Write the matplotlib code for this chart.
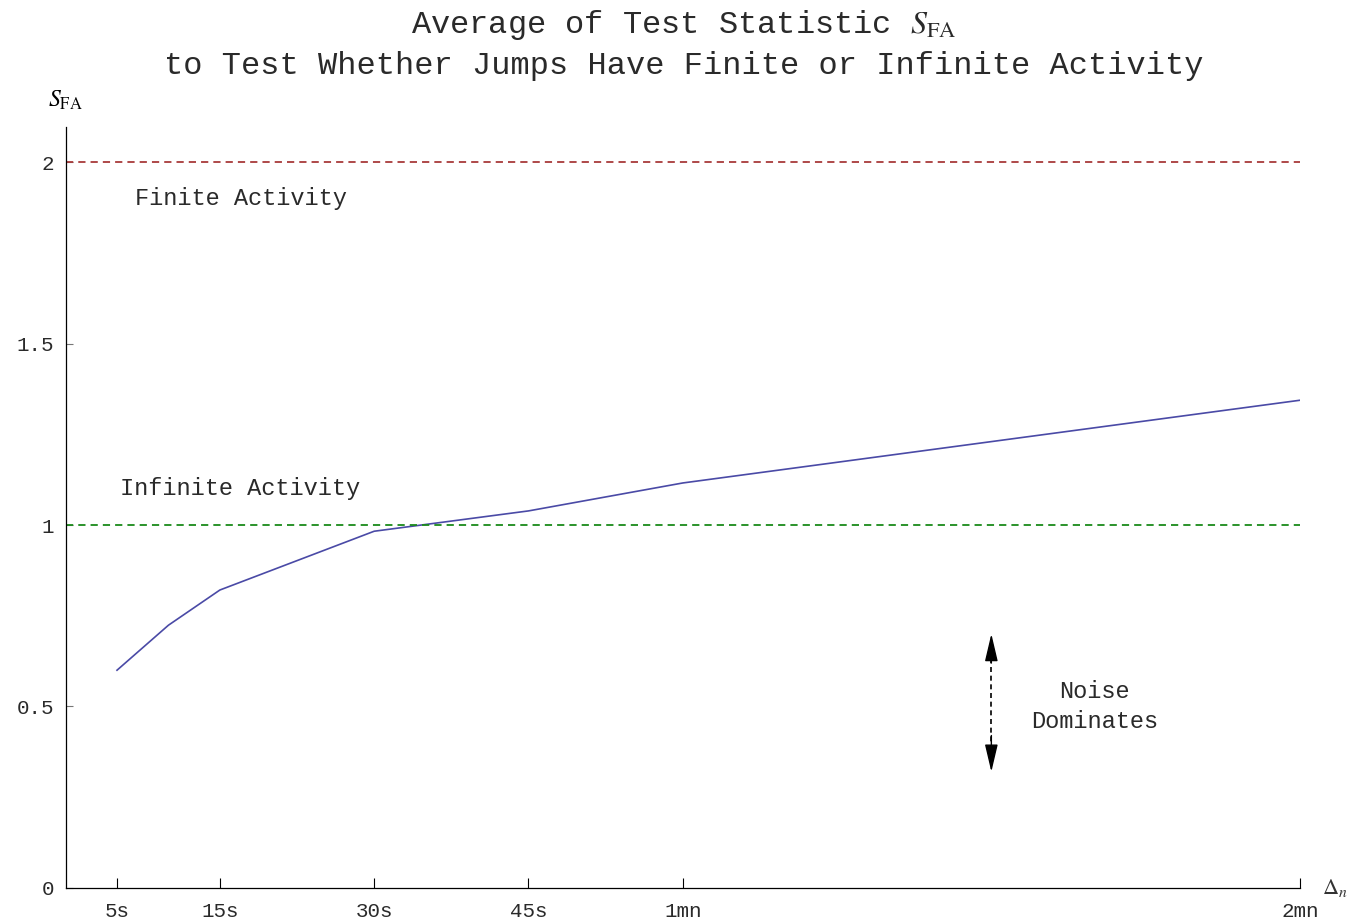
import matplotlib
matplotlib.use("Agg")
import matplotlib.pyplot as plt

plt.rcParams['font.family'] = ['Liberation Mono', 'DejaVu Sans Mono']
plt.rcParams['mathtext.fontset'] = 'stix'

# Data
delta_seconds = [5, 10, 15, 30, 45, 60, 120]
s_fa = [0.600, 0.724, 0.821, 0.983, 1.039, 1.116, 1.344]
xtick_pos = [5, 15, 30, 45, 60, 120]
xtick_labels = ['5s', '15s', '30s', '45s', '1mn', '2mn']
ytick_pos = [0, 0.5, 1, 1.5, 2]
ytick_labels = ['0', '0.5', '1', '1.5', '2']
finite_level = 2.0
infinite_level = 1.0

TXT = '#2a2a2a'

fig = plt.figure(figsize=(13.52, 9.23), dpi=100)
ax = fig.add_axes([0.0485, 0.038, 0.9130, 0.824])

ax.plot(delta_seconds, s_fa, color='#4a4aa6', lw=1.2)
ax.axhline(finite_level, color='#a83a3a', lw=1.3, ls=(0, (4, 2.8)))
ax.axhline(infinite_level, color='#1a8a1a', lw=1.3, ls=(0, (4, 2.8)))

ax.set_xlim(0, 120)
ax.set_ylim(0, 2.096)
ax.set_xticks(xtick_pos)
ax.set_xticklabels(xtick_labels, fontsize=15, color=TXT)
ax.set_yticks(ytick_pos)
ax.set_yticklabels(ytick_labels, fontsize=15, color=TXT)
ax.tick_params(axis='x', direction='in', length=7, width=0.8, pad=10)
ax.tick_params(axis='y', direction='in', length=5, width=0.8, pad=8, color='#777777')

for s in ['top', 'right']:
    ax.spines[s].set_visible(False)
for s in ['left', 'bottom']:
    ax.spines[s].set_linewidth(0.9)

ax.text(17, 1.90, 'Finite Activity', fontsize=17, ha='center', va='center', color=TXT)
ax.text(17, 1.10, 'Infinite Activity', fontsize=17, ha='center', va='center', color=TXT)
ax.text(100, 0.50, 'Noise\nDominates', fontsize=17, ha='center', va='center',
        color=TXT, linespacing=1.35)

# double-headed dashed arrow
ax.plot([90, 90], [0.38, 0.655], color='black', lw=1.2, ls=(0, (3, 2.2)))
for y0, y1 in [(0.62, 0.70), (0.42, 0.32)]:
    ax.annotate('', xy=(90, y1), xytext=(90, y0),
                arrowprops=dict(arrowstyle='-|>,head_length=0.85,head_width=0.2',
                                lw=1.0, color='black', mutation_scale=20,
                                shrinkA=0, shrinkB=0))

ax.text(-0.0005, 1.035, r'$S_{\mathrm{FA}}$', transform=ax.transAxes, fontsize=17,
        ha='center', va='center')
ax.text(1.028, 0.0, r'$\Delta_n$', transform=ax.transAxes, fontsize=16,
        ha='center', va='center', color='#333333')

fig.text(0.5055, 0.973, r'Average of Test Statistic $S_{\mathrm{FA}}$', fontsize=23,
         ha='center', va='center', color=TXT)
fig.text(0.5055, 0.928, 'to Test Whether Jumps Have Finite or Infinite Activity',
         fontsize=23, ha='center', va='center', color=TXT)

fig.savefig('out.png', dpi=100)
